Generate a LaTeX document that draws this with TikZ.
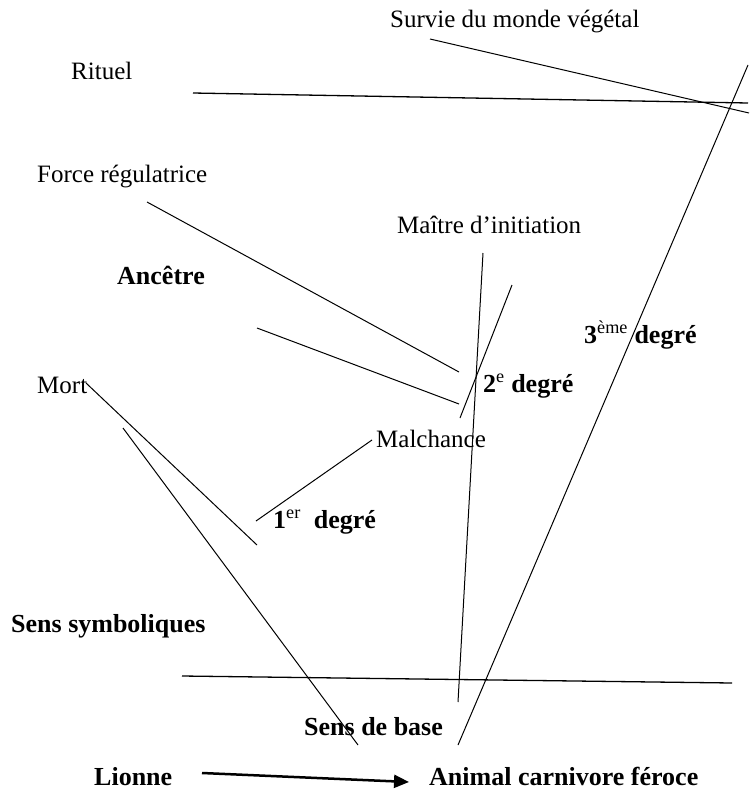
\documentclass[tikz,border=0pt]{standalone}
\usepackage{fontspec}
\setmainfont{Liberation Serif}
\usetikzlibrary{arrows.meta}

\begin{document}
\begin{tikzpicture}[x=1pt,y=-1pt,
  txt/.style={anchor=base west,inner sep=0pt,font=\fontsize{25}{30}\selectfont},
  btxt/.style={anchor=base west,inner sep=0pt,font=\fontsize{26}{31}\selectfont\bfseries},
  ln/.style={line width=1pt},
  arr/.style={-{Triangle[length=15pt,width=13pt]},line width=2.5pt}
]
\useasboundingbox (0,0) rectangle (752,790);

\node[txt]  (survie) at (390,27)  {Survie du monde végétal};
\node[txt]  (rituel) at (71,79)   {Rituel};
\node[txt]  (force)  at (37,182)  {Force régulatrice};
\node[txt]  (maitre) at (397,233) {Maître d’initiation};
\node[btxt] (ancetre) at (117,284) {Ancêtre};
\node[btxt] (deg3)   at (584,343) {3\textsuperscript{\mdseries ème} degré};
\node[txt]  (mort)   at (37,393)  {Mort};
\node[btxt] (deg2)   at (483,392) {2\textsuperscript{\mdseries e} degré};
\node[txt]  (malch)  at (376,447) {Malchance};
\node[btxt] (deg1)   at (273,528) {1\textsuperscript{\mdseries er}\ \ degré};
\node[btxt] (symb)   at (11,632)  {Sens symboliques};
\node[btxt] (base)   at (304,735) {Sens de base};
\node[btxt] (lionne) at (94,785)  {Lionne};
\node[btxt] (animal) at (429,785) {Animal carnivore féroce};

\coordinate (sv1) at (430,39);  \coordinate (sv2) at (749,113);
\coordinate (ri1) at (193,93);  \coordinate (ri2) at (748,103);
\coordinate (tr1) at (748,65);  \coordinate (tr2) at (458,745);
\coordinate (fo1) at (147,202); \coordinate (fo2) at (459,372);
\coordinate (an1) at (257,328); \coordinate (an2) at (459,404);
\coordinate (ma1) at (483,253); \coordinate (ma2) at (458,702);
\coordinate (de1) at (512,285); \coordinate (de2) at (460,418);
\coordinate (mo1) at (86,383);  \coordinate (mo2) at (257,545);
\coordinate (mo3) at (123,428); \coordinate (mo4) at (358,745);
\coordinate (mc1) at (372,440); \coordinate (mc2) at (256,521);
\coordinate (sy1) at (182,676); \coordinate (sy2) at (732,683);
\coordinate (li1) at (202,773); \coordinate (li2) at (409,782);

\draw[ln] (sv1)--(sv2);
\draw[ln,line width=1.3pt] (ri1)--(ri2);
\draw[ln] (tr1)--(tr2);
\draw[ln] (fo1)--(fo2);
\draw[ln] (an1)--(an2);
\draw[ln] (ma1)--(ma2);
\draw[ln] (de1)--(de2);
\draw[ln] (mo1)--(mo2);
\draw[ln] (mo3)--(mo4);
\draw[ln] (mc1)--(mc2);
\draw[ln,line width=1.3pt] (sy1)--(sy2);
\draw[arr] (li1)--(li2);
\end{tikzpicture}
\end{document}
